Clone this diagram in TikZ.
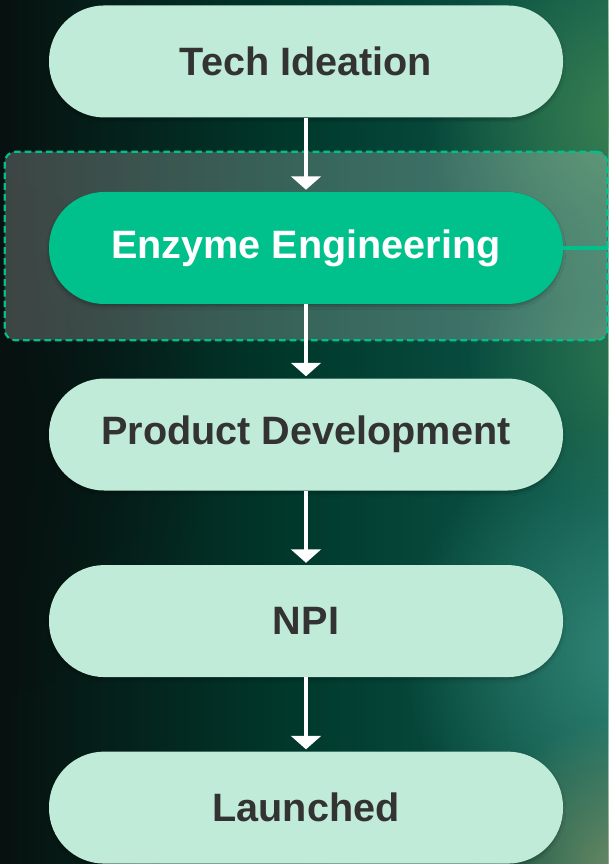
\documentclass[tikz,border=0pt]{standalone}
\usepackage{fontspec}
\setmainfont{Liberation Sans}
\usetikzlibrary{arrows.meta, positioning, calc, fit, backgrounds, fadings, shadows.blur}
\definecolor{bgink}{HTML}{07110F}
\definecolor{bgdeep}{HTML}{003A2D}
\definecolor{bgteal}{HTML}{0E5A4C}
\definecolor{glowgreen}{HTML}{3F8552}
\definecolor{glowteal}{HTML}{3A8F80}
\definecolor{glowolive}{HTML}{7C9268}
\definecolor{mint}{HTML}{C0EBD8}
\definecolor{jade}{HTML}{00C08B}
\definecolor{textgray}{HTML}{333333}
\tikzfading[name=softglow, inner color=transparent!0, outer color=transparent!100]
\tikzset{
  stage/.style    = {rectangle, rounded corners=41.5pt, fill=mint, text=textgray,
                     minimum width=385.5pt, minimum height=84pt, align=center,
                     font=\fontsize{29.7}{34}\selectfont\bfseries,
                     blur shadow={shadow xshift=0pt, shadow yshift=-2pt, shadow blur steps=6, shadow opacity=25}},
  stagehl/.style  = {stage, fill=jade, text=white},
  focus/.style    = {draw=jade, dash pattern=on 5pt off 3pt, line width=1.6pt,
                     rounded corners=8pt, fill=white, fill opacity=0.22},
  flow/.style     = {-{Triangle[width=22pt,length=10pt]}, draw=white, line width=3pt},
  link/.style     = {draw=jade, line width=3pt},
}
\begin{document}
\begin{tikzpicture}
  \useasboundingbox (0,0) rectangle (456pt,648pt);

  \node[stage] (ideation) at (229.5pt,601.9pt) {Tech Ideation};
  \node[stagehl, below=55.5pt of ideation] (enzyme) {Enzyme Engineering};
  \node[stage, below=55.5pt of enzyme] (product) {Product Development};
  \node[stage, below=55.5pt of product] (npi) {NPI};
  \node[stage, below=55.5pt of npi] (launched) {Launched};

  \begin{scope}[on background layer]
    % backdrop
    \fill[left color=bgink, right color=bgteal, middle color=bgdeep] (0,0) rectangle (456pt,648pt);
    \fill[glowgreen, path fading=softglow, opacity=0.9] (470pt,560pt) circle (150pt);
    \fill[glowteal, path fading=softglow, opacity=0.8] (470pt,160pt) circle (170pt);
    \fill[glowolive, path fading=softglow, opacity=0.9] (470pt,-10pt) circle (120pt);
    \fill[glowgreen, path fading=softglow, opacity=0.6] (470pt,380pt) circle (120pt);
    \fill[bgink, path fading=softglow, opacity=0.8] (-40pt,320pt) circle (200pt);
    \node[focus, fit=(enzyme), inner xsep=33pt, inner ysep=28.5pt, yshift=1.5pt] (focusbox) {};
  \end{scope}

  \draw[link] (enzyme.east) -- (enzyme.east -| focusbox.east);

  \draw[flow, shorten >=1.5pt] (ideation) -- (enzyme);
  \draw[flow, shorten >=1.5pt] (enzyme) -- (product);
  \draw[flow, shorten >=1.5pt] (product) -- (npi);
  \draw[flow, shorten >=1.5pt] (npi) -- (launched);
\end{tikzpicture}
\end{document}
